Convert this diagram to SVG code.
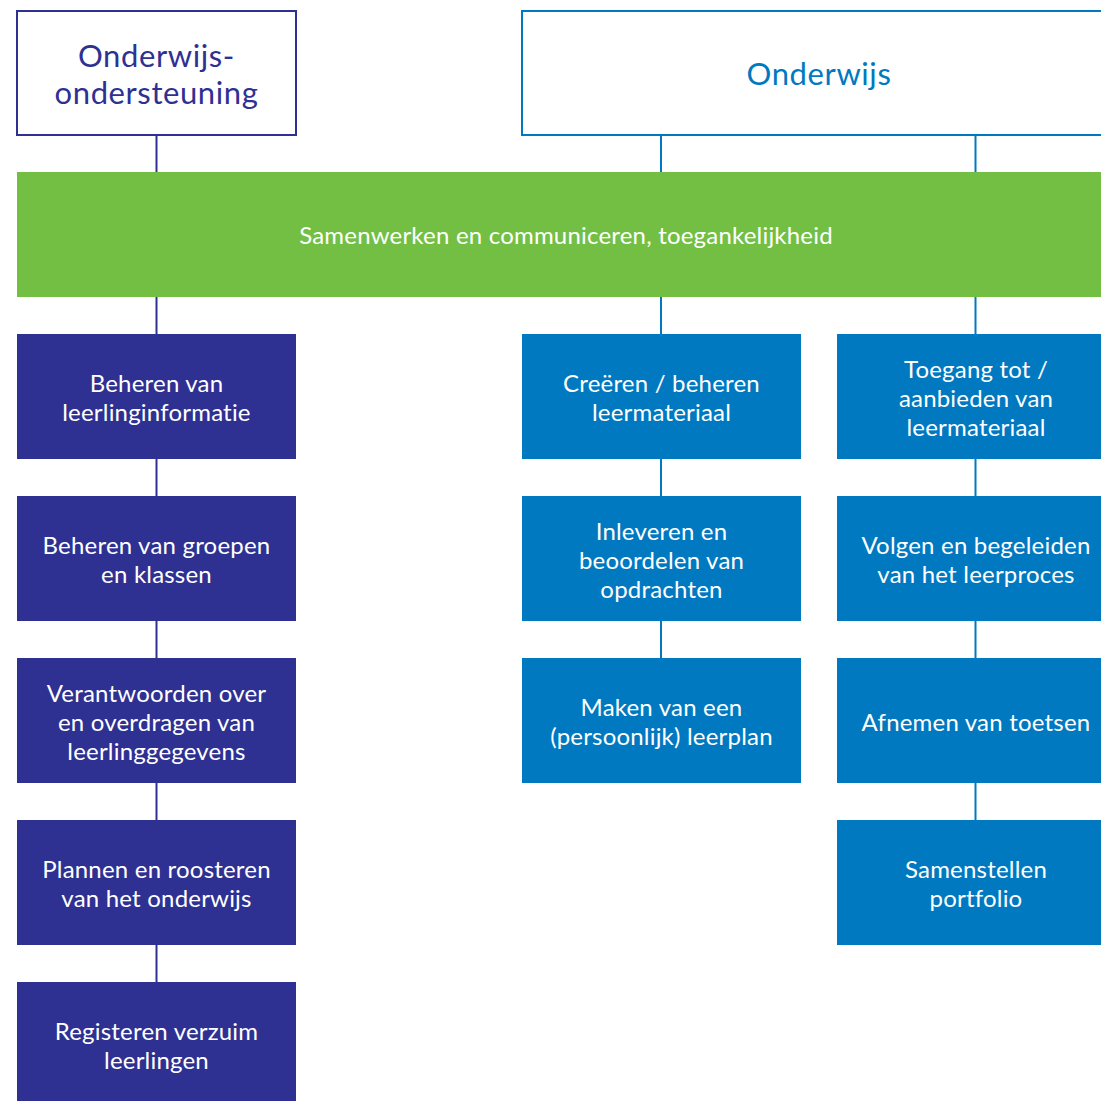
<svg xmlns="http://www.w3.org/2000/svg" width="1101" height="1101" viewBox="0 0 1101 1101">
<style>
.t{font-family:Lato,"Liberation Sans",sans-serif;font-size:24px;letter-spacing:0.2px;fill:#ffffff;text-anchor:middle}
.h{font-family:Lato,"Liberation Sans",sans-serif;font-size:31px;letter-spacing:0.6px;text-anchor:middle}
.nv{fill:#2e3192}
.bl{fill:#0079c1}
.cn line{stroke-width:2}
.cl{stroke:#2e3192}
.cb{stroke:#0079c1}
</style>
<rect width="1101" height="1101" fill="#ffffff"/>
<g id="connectors" class="cn">
<line class="cl" x1="156.5" y1="136" x2="156.5" y2="172"/>
<line class="cl" x1="156.5" y1="297" x2="156.5" y2="334"/>
<line class="cl" x1="156.5" y1="459" x2="156.5" y2="496"/>
<line class="cl" x1="156.5" y1="621" x2="156.5" y2="658"/>
<line class="cl" x1="156.5" y1="783" x2="156.5" y2="820"/>
<line class="cl" x1="156.5" y1="945" x2="156.5" y2="982"/>
<line class="cb" x1="661" y1="136" x2="661" y2="172"/>
<line class="cb" x1="661" y1="297" x2="661" y2="334"/>
<line class="cb" x1="661" y1="459" x2="661" y2="496"/>
<line class="cb" x1="661" y1="621" x2="661" y2="658"/>
<line class="cb" x1="975.5" y1="136" x2="975.5" y2="172"/>
<line class="cb" x1="975.5" y1="297" x2="975.5" y2="334"/>
<line class="cb" x1="975.5" y1="459" x2="975.5" y2="496"/>
<line class="cb" x1="975.5" y1="621" x2="975.5" y2="658"/>
<line class="cb" x1="975.5" y1="783" x2="975.5" y2="820"/>
</g>
<g id="n-onderwijsondersteuning">
<rect x="17" y="11" width="279" height="124" fill="#ffffff" stroke="#2e3192" stroke-width="2"/>
<text class="h nv" x="156.5" y="67">Onderwijs-</text>
<text class="h nv" x="156.5" y="104">ondersteuning</text>
</g>
<g id="n-onderwijs">
<rect x="522" y="11" width="600" height="124" fill="#ffffff" stroke="#0079c1" stroke-width="2"/>
<text class="h bl" x="819" y="85">Onderwijs</text>
</g>
<g id="n-samenwerken">
<rect x="17" y="172" width="1084" height="125" fill="#72bf44"/>
<text class="t" x="566" y="244">Samenwerken en communiceren, toegankelijkheid</text>
</g>
<g id="n-beheren-leerlinginfo">
<rect class="nv" x="17" y="334" width="279" height="125"/>
<text class="t" x="156.5" y="392">Beheren van</text>
<text class="t" x="156.5" y="421">leerlinginformatie</text>
</g>
<g id="n-beheren-groepen">
<rect class="nv" x="17" y="496" width="279" height="125"/>
<text class="t" x="156.5" y="554">Beheren van groepen</text>
<text class="t" x="156.5" y="583">en klassen</text>
</g>
<g id="n-verantwoorden">
<rect class="nv" x="17" y="658" width="279" height="125"/>
<text class="t" x="156.5" y="701.5">Verantwoorden over</text>
<text class="t" x="156.5" y="730.5">en overdragen van</text>
<text class="t" x="156.5" y="759.5">leerlinggegevens</text>
</g>
<g id="n-plannen">
<rect class="nv" x="17" y="820" width="279" height="125"/>
<text class="t" x="156.5" y="878">Plannen en roosteren</text>
<text class="t" x="156.5" y="907">van het onderwijs</text>
</g>
<g id="n-registeren">
<rect class="nv" x="17" y="982" width="279" height="125"/>
<text class="t" x="156.5" y="1040">Registeren verzuim</text>
<text class="t" x="156.5" y="1069">leerlingen</text>
</g>
<g id="n-creeren">
<rect class="bl" x="522" y="334" width="279" height="125"/>
<text class="t" x="661.5" y="392">Creëren / beheren</text>
<text class="t" x="661.5" y="421">leermateriaal</text>
</g>
<g id="n-inleveren">
<rect class="bl" x="522" y="496" width="279" height="125"/>
<text class="t" x="661.5" y="539.5">Inleveren en</text>
<text class="t" x="661.5" y="568.5">beoordelen van</text>
<text class="t" x="661.5" y="597.5">opdrachten</text>
</g>
<g id="n-leerplan">
<rect class="bl" x="522" y="658" width="279" height="125"/>
<text class="t" x="661.5" y="716">Maken van een</text>
<text class="t" x="661.5" y="745">(persoonlijk) leerplan</text>
</g>
<g id="n-toegang">
<rect class="bl" x="837" y="334" width="279" height="125"/>
<text class="t" x="976" y="377.5">Toegang tot /</text>
<text class="t" x="976" y="406.5">aanbieden van</text>
<text class="t" x="976" y="435.5">leermateriaal</text>
</g>
<g id="n-volgen">
<rect class="bl" x="837" y="496" width="279" height="125"/>
<text class="t" x="976" y="554">Volgen en begeleiden</text>
<text class="t" x="976" y="583">van het leerproces</text>
</g>
<g id="n-toetsen">
<rect class="bl" x="837" y="658" width="279" height="125"/>
<text class="t" x="976" y="730.5">Afnemen van toetsen</text>
</g>
<g id="n-portfolio">
<rect class="bl" x="837" y="820" width="279" height="125"/>
<text class="t" x="976" y="878">Samenstellen</text>
<text class="t" x="976" y="907">portfolio</text>
</g>
</svg>
